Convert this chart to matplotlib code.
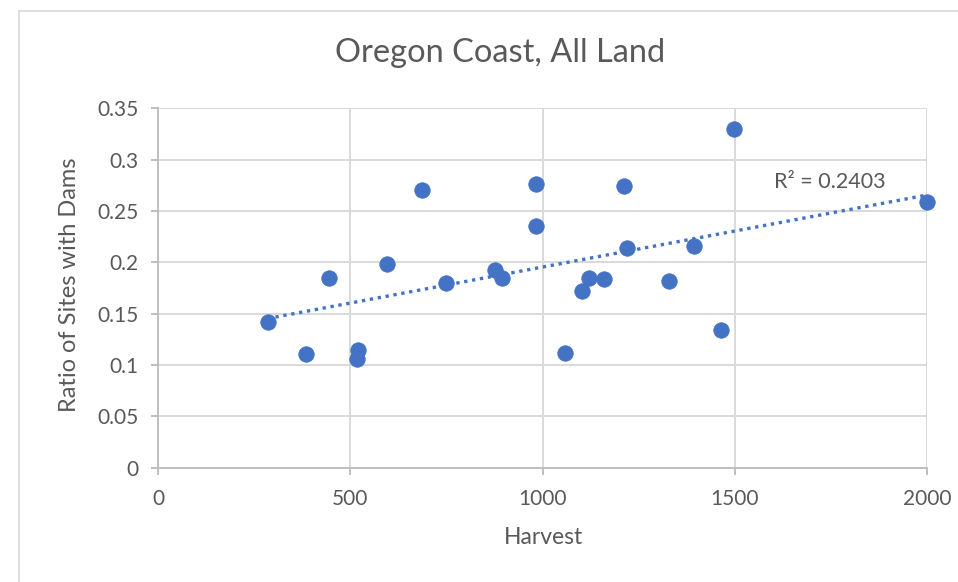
import numpy as np
import matplotlib
matplotlib.use("Agg")
import matplotlib.pyplot as plt
from matplotlib.lines import Line2D

plt.rcParams['font.family'] = ['Lato', 'DejaVu Sans']

title = "Oregon Coast, All Land"
x_label = "Harvest"
y_label = "Ratio of Sites with Dams"
r2_label = "R² = 0.2403"

harvest = [285, 386, 446, 521, 518, 595, 686, 749, 876, 895, 983, 983,
           1058, 1102, 1122, 1160, 1213, 1219, 1329, 1394, 1465, 1499, 1999]
ratio = [0.142, 0.111, 0.185, 0.115, 0.106, 0.198, 0.270, 0.180, 0.193, 0.185,
         0.276, 0.235, 0.112, 0.172, 0.185, 0.184, 0.274, 0.214, 0.182, 0.216,
         0.134, 0.330, 0.259]
x_ticks = [0, 500, 1000, 1500, 2000]
y_ticks = [0, 0.05, 0.1, 0.15, 0.2, 0.25, 0.3, 0.35]
y_tick_labels = ["0", "0.05", "0.1", "0.15", "0.2", "0.25", "0.3", "0.35"]

blue = "#4472C4"
grid_c = "#D9D9D9"
axis_c = "#BFBFBF"
text_c = "#595959"

W, H = 958, 582
fig = plt.figure(figsize=(W / 100, H / 100), dpi=100)
fig.patch.set_facecolor("white")

# chart area border (top and left visible)
fig.add_artist(Line2D([19 / W, 1], [1 - 11 / H, 1 - 11 / H], color=grid_c, lw=1.2))
fig.add_artist(Line2D([19 / W, 19 / W], [0, 1 - 11 / H], color=grid_c, lw=1.2))

ax = fig.add_axes([158 / W, 1 - 467.7 / H, (927 - 158) / W, (467.7 - 108.3) / H])
ax.set_xlim(0, 2000)
ax.set_ylim(0, 0.35)
ax.set_xticks(x_ticks)
ax.set_xticklabels([str(t) for t in x_ticks])
ax.set_yticks(y_ticks)
ax.set_yticklabels(y_tick_labels)
ax.grid(True, color=grid_c, lw=1.4, zorder=0)
ax.set_axisbelow(True)
for s in ["top", "right"]:
    ax.spines[s].set_visible(False)
for s in ["left", "bottom"]:
    ax.spines[s].set_color(axis_c)
    ax.spines[s].set_linewidth(1.4)
ax.tick_params(axis="both", colors=axis_c, length=5, width=1.4,
               labelcolor=text_c, labelsize=15)
ax.tick_params(axis="x", pad=10)
ax.tick_params(axis="y", pad=9)

ax.scatter(harvest, ratio, s=125, color=blue, edgecolors=blue, linewidths=0.5,
           zorder=3, clip_on=False)

coef = np.polyfit(harvest, ratio, 1)
xs = np.array([min(harvest), max(harvest)])
ax.plot(xs, np.polyval(coef, xs), color=blue, lw=2.4,
        linestyle=(0, (1, 1.4)), zorder=4, clip_on=False)

ax.text(1602, 0.2785, r2_label, color=text_c, fontsize=15.5, va="center", ha="left")

fig.text(500 / W, 1 - 53 / H, title, color=text_c, fontsize=23.5, ha="center", va="center")
fig.text(543 / W, 1 - 537 / H, x_label, color=text_c, fontsize=16.5, ha="center", va="center")
fig.text(70 / W, 1 - 285 / H, y_label, color=text_c, fontsize=17, ha="center",
         va="center", rotation=90)

fig.savefig("out.png", dpi=100)
